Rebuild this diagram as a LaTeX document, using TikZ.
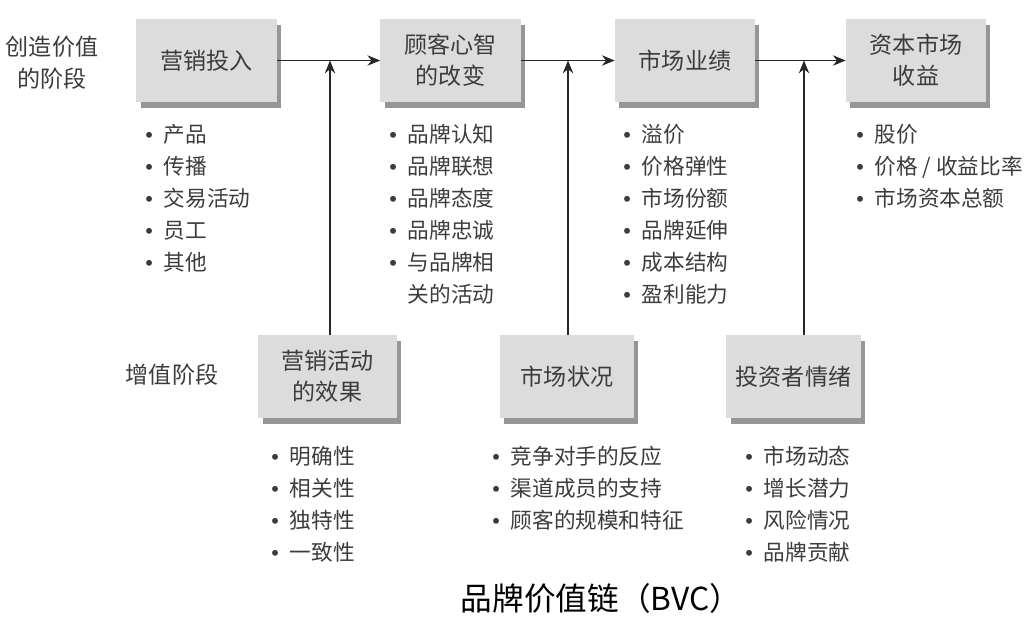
\documentclass[tikz,border=0pt]{standalone}
\usepackage{fontspec}
\setmainfont{Noto Sans CJK SC}
\newfontfamily\dotfont{Liberation Sans}
\usepackage{tikz}
\usetikzlibrary{arrows.meta, shadows}
\definecolor{boxgray}{HTML}{DCDCDC}
\definecolor{shadowgray}{HTML}{969696}
\definecolor{textgray}{HTML}{3C3C3C}
% bullet with fixed gap before the item text
\newcommand{\dotitem}{\makebox[0.46cm][l]{\dotfont •}}
\newcommand{\dotgap}{\makebox[0.46cm]{}}

\begin{document}
\begin{tikzpicture}[x=0.025cm, y=-0.025cm,
    stage/.style={rectangle, fill=boxgray, minimum width=3.5cm, minimum height=2.075cm,
        align=center, text=textgray, font=\fontsize{16.4}{22}\selectfont,
        drop shadow={shadow xshift=0.11cm, shadow yshift=-0.14cm, fill=shadowgray, opacity=1}},
    items/.style={anchor=north west, inner sep=0pt, align=left, text=textgray,
        font=\fontsize{15.4}{22.8}\selectfont},
    phase/.style={align=center, text=textgray, font=\fontsize{16.4}{22.5}\selectfont},
    flow/.style={line width=0.9pt, draw=black!85, -{Stealth[length=3.2mm, width=2.6mm]}}]
    \useasboundingbox (0,0) rectangle (1029,634);

    % stage labels on the left
    \node[phase] at (52,62.5)  (create) {创造价值\\的阶段};
    \node[phase] at (172,375)  (add)    {增值阶段};

    % value creation chain
    \node[stage] at (206.5,60.5) (input)  {营销投入};
    \node[stage] at (450.5,60.5) (mind)   {顾客心智\\的改变};
    \node[stage] at (685,60.5)   (market) {市场业绩};
    \node[stage] at (916,60.5)   (equity) {资本市场\\收益};

    % multipliers
    \node[stage, minimum width=3.45cm] at (327.5,376.5) (effect)   {营销活动\\的效果};
    \node[stage, minimum width=3.35cm] at (567,376.5)   (cond)     {市场状况};
    \node[stage, minimum width=3.35cm] at (793.5,376.5) (investor) {投资者情绪};

    % item lists
    \node[items] at (145,124) (l1) {\dotitem 产品\\\dotitem 传播\\\dotitem 交易活动\\\dotitem 员工\\\dotitem 其他};
    \node[items] at (389,124) (l2) {\dotitem 品牌认知\\\dotitem 品牌联想\\\dotitem 品牌态度\\\dotitem 品牌忠诚\\\dotitem 与品牌相\\\dotgap 关的活动};
    \node[items] at (623,124) (l3) {\dotitem 溢价\\\dotitem 价格弹性\\\dotitem 市场份额\\\dotitem 品牌延伸\\\dotitem 成本结构\\\dotitem 盈利能力};
    \node[items] at (856,124) (l4) {\dotitem 股价\\\dotitem 价格 / 收益比率\\\dotitem 市场资本总额};
    \node[items] at (271,446) (l5) {\dotitem 明确性\\\dotitem 相关性\\\dotitem 独特性\\\dotitem 一致性};
    \node[items] at (492,446) (l6) {\dotitem 竞争对手的反应\\\dotitem 渠道成员的支持\\\dotitem 顾客的规模和特征};
    \node[items] at (745,446) (l7) {\dotitem 市场动态\\\dotitem 增长潜力\\\dotitem 风险情况\\\dotitem 品牌贡献};

    \node[font=\fontsize{22.5}{26}\selectfont] at (601,598) (title) {品牌价值链（BVC）};

    % arrows
    \coordinate (j1) at (330,60.5);
    \coordinate (j2) at (568,60.5);
    \coordinate (j3) at (804,60.5);
    \draw[flow] (input) -- (mind);
    \draw[flow] (mind) -- (market);
    \draw[flow] (market) -- (equity);
    \draw[flow] (effect.north -| j1) -- (j1);
    \draw[flow] (cond.north -| j2) -- (j2);
    \draw[flow] (investor.north -| j3) -- (j3);
\end{tikzpicture}
\end{document}
